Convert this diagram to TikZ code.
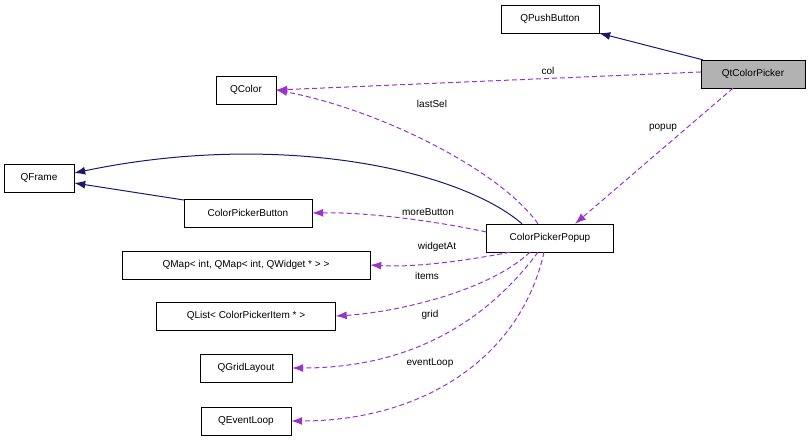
\documentclass[tikz,border=0pt]{standalone}
\usepackage{fontspec}
\setmainfont{Liberation Sans}
\usetikzlibrary{arrows.meta}
\definecolor{navyc}{RGB}{25,25,112}
\definecolor{purp}{RGB}{154,50,205}
\begin{document}
\begin{tikzpicture}[x=1pt,y=-1pt,
  box/.style={draw=black,fill=white,inner sep=0pt,minimum height=28pt,font=\fontsize{10}{11}\selectfont},
  inh/.style={draw=navyc,line width=1pt,-{Latex[length=11pt,width=8pt]}},
  use/.style={draw=purp,line width=1pt,dash pattern=on 5pt off 3pt,-{Latex[length=11pt,width=8pt]}},
  lbl/.style={font=\fontsize{10}{11}\selectfont}]
\useasboundingbox (0,0) rectangle (811,443);
\node[box,minimum width=98pt] (pb) at (550,19) {QPushButton};
\node[box,minimum width=104pt,fill=black!30] (cp) at (753,74) {QtColorPicker};
\node[box,minimum width=60pt] (qc) at (246,90) {QColor};
\node[box,minimum width=70pt] (qf) at (39,178) {QFrame};
\node[box,minimum width=128pt] (cb) at (248,213) {ColorPickerButton};
\node[box,minimum width=127pt] (pp) at (550,238) {ColorPickerPopup};
\node[box,minimum width=248pt] (qm) at (246,265) {QMap< int, QMap< int, QWidget * > >};
\node[box,minimum width=179pt] (ql) at (246,316) {QList< ColorPickerItem * >};
\node[box,minimum width=92pt] (qg) at (246,368) {QGridLayout};
\node[box,minimum width=90pt] (qe) at (246,421) {QEventLoop};
\draw[inh] ([xshift=2pt]cp.north west) -- (pb.south east);
\draw[use] ([yshift=2pt]cp.west) -- (qc.east) node[lbl,pos=0.36,above] {col};
\draw[use] ([xshift=-20pt]cp.south) -- ([xshift=25pt]pp.north);
\node[lbl] at (663,128) {popup};
\draw[use] ([xshift=-12pt]pp.north) .. controls (500,170) and (380,110) .. (qc.east);
\node[lbl] at (432,104) {lastSel};
\draw[inh] ([xshift=-28pt]pp.north) .. controls (460,170) and (280,130) .. ([yshift=5pt]qf.east);
\draw[inh] ([yshift=13pt]cb.west) -- ([yshift=-5pt]qf.east);
\draw[use] ([yshift=6pt]pp.west) .. controls (440,222) and (370,212) .. (cb.east);
\node[lbl] at (428,212) {moreButton};
\draw[use] ([xshift=-40pt]pp.south) .. controls (480,258) and (420,268) .. (qm.east);
\node[lbl] at (437,247) {widgetAt};
\draw[use] ([xshift=-20pt]pp.south) .. controls (490,290) and (400,312) .. (ql.east);
\node[lbl] at (427,276) {items};
\draw[use] ([xshift=-12pt]pp.south) .. controls (480,330) and (400,368) .. (qg.east);
\node[lbl] at (430,315) {grid};
\draw[use] ([xshift=-6pt]pp.south) .. controls (520,360) and (420,421) .. (qe.east);
\node[lbl] at (430,363) {eventLoop};
\end{tikzpicture}
\end{document}
